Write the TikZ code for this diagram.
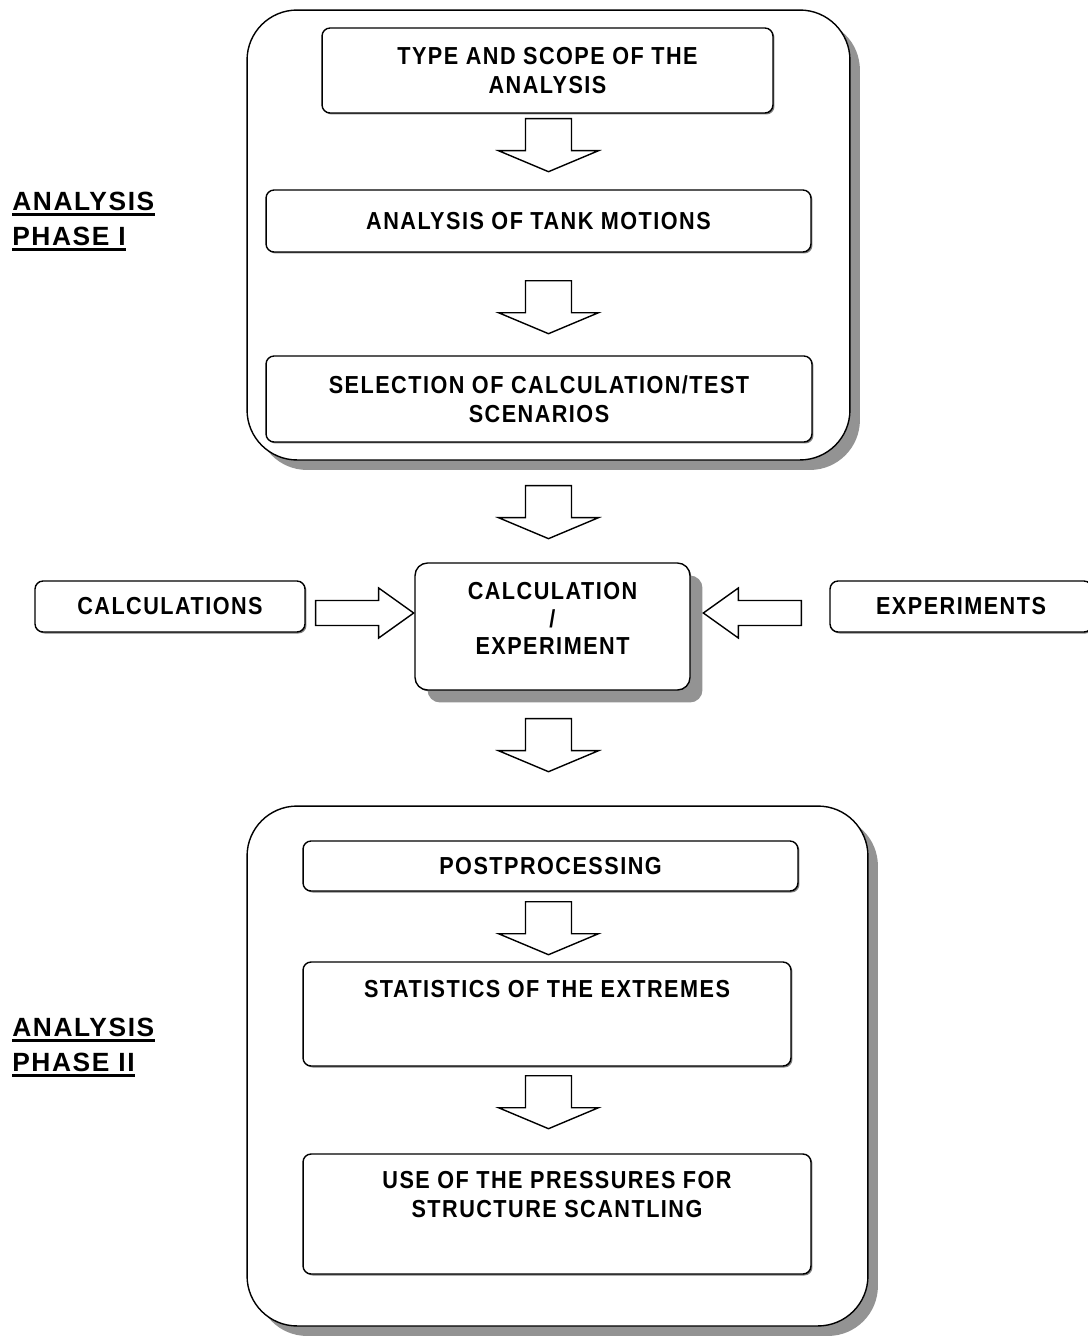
\documentclass[tikz,border=0pt]{standalone}
\usepackage{fontspec}
\setmainfont{Liberation Sans}[FakeStretch=0.88, LetterSpace=6]
\newfontfamily\labelfont{Liberation Sans}[LetterSpace=6]
\usetikzlibrary{positioning,calc,shadows}

\tikzset{
    phasebox/.style={draw, line width=0.8pt, fill=white, rounded corners=1cm,
        drop shadow={shadow xshift=0.2cm, shadow yshift=-0.2cm, fill=gray!85, opacity=1}},
    stepbox/.style={draw, line width=0.8pt, fill=white, rounded corners=0.16cm,
        align=center, inner sep=0pt, font=\bfseries\fontsize{14}{16.5}\selectfont,
        drop shadow={shadow xshift=0.03cm, shadow yshift=-0.03cm, fill=gray, opacity=1}},
    steptext/.style={align=center, inner sep=0pt, anchor=north,
        font=\bfseries\fontsize{14}{16.5}\selectfont},
    phaselabel/.style={inner sep=0pt, anchor=base west,
        font=\labelfont\bfseries\fontsize{15}{18}\selectfont},
    underbar/.style={line width=2pt},
    pics/downarrow/.style={code={
        \draw[line width=0.8pt, fill=white] (-23,0) -- (-23,32) -- (-50,32) -- (0,53)
            -- (50,32) -- (23,32) -- (23,0) -- cycle;}},
    pics/sidearrow/.style={code={
        \draw[line width=0.8pt, fill=white] (0,-12.5) -- (63,-12.5) -- (63,-25) -- (98,0)
            -- (63,25) -- (63,12.5) -- (0,12.5) -- cycle;}},
}

\begin{document}
\begin{tikzpicture}[x=0.02cm, y=-0.02cm]
        \useasboundingbox (0,0) rectangle (1088,1336);
        %Phase I
            \node[phasebox, minimum width=12.06cm, minimum height=9cm] (phaseone) at (548.5,235) {};
            \node[stepbox, minimum width=9.02cm, minimum height=1.7cm] (type) at (547.5,70.5) {TYPE AND SCOPE OF THE\\ANALYSIS};
            \node[stepbox, minimum width=10.9cm, minimum height=1.24cm] (tank) at (538.5,221) {ANALYSIS OF TANK MOTIONS};
            \node[stepbox, minimum width=10.92cm, minimum height=1.72cm] (select) at (539,399) {SELECTION OF CALCULATION/TEST\\SCENARIOS};
        %Calculation / experiment
            \node[stepbox, minimum width=5.4cm, minimum height=1.02cm] (calcs) at (170,606.5) {CALCULATIONS};
            \node[stepbox, minimum width=5.5cm, minimum height=2.54cm, rounded corners=0.25cm,
                drop shadow={shadow xshift=0.25cm, shadow yshift=-0.25cm, fill=gray!85, opacity=1}] (calcexp) at (552.5,626.5) {};
            \node[steptext] (calcexptext) at ($(calcexp.north)+(0,20)$) {CALCULATION\\[-1pt]/\\[-1pt]EXPERIMENT};
            \node[stepbox, minimum width=5.24cm, minimum height=1.02cm] (exps) at (961,606.5) {EXPERIMENTS};
        %Phase II
            \node[phasebox, minimum width=12.42cm, minimum height=10.4cm] (phasetwo) at (557.5,1066) {};
            \node[stepbox, minimum width=9.9cm, minimum height=1cm] (post) at (550.5,866) {POSTPROCESSING};
            \node[stepbox, minimum width=9.76cm, minimum height=2.08cm] (stats) at (547,1014) {};
            \node[steptext] (statstext) at ($(stats.north)+(0,19)$) {STATISTICS OF THE EXTREMES};
            \node[stepbox, minimum width=10.16cm, minimum height=2.4cm] (use) at (557,1214) {};
            \node[steptext] (usetext) at ($(use.north)+(0,18)$) {USE OF THE PRESSURES FOR\\STRUCTURE SCANTLING};
        %Block arrows
            \pic at ($(phaseone.center |- type.south)+(0,5)$) {downarrow};
            \pic at ($(phaseone.center |- tank.south)+(0,28)$) {downarrow};
            \pic at ($(phaseone.center |- phaseone.south)+(0,25)$) {downarrow};
            \pic at ($(phaseone.center |- calcexp.south)+(0,28)$) {downarrow};
            \pic at ($(phaseone.center |- post.south)+(0,10)$) {downarrow};
            \pic at ($(phaseone.center |- stats.south)+(0,9)$) {downarrow};
            \pic at ($(calcs.east)+(10,6.5)$) {sidearrow};
            \pic[xscale=-1] at ($(exps.west)+(-28,6.5)$) {sidearrow};
        %Phase labels
            \node[phaselabel] (laba) at (12,210) {ANALYSIS};
            \node[phaselabel] (labb) at (12,245) {PHASE I};
            \node[phaselabel] (labc) at (12,1036) {ANALYSIS};
            \node[phaselabel] (labd) at (12,1071) {PHASE II};
            \foreach \lab in {laba,labb,labc,labd}
                \draw[underbar] ([yshift=-2.5pt]\lab.base west) -- ([yshift=-2.5pt]\lab.base east);
    \end{tikzpicture}
\end{document}
